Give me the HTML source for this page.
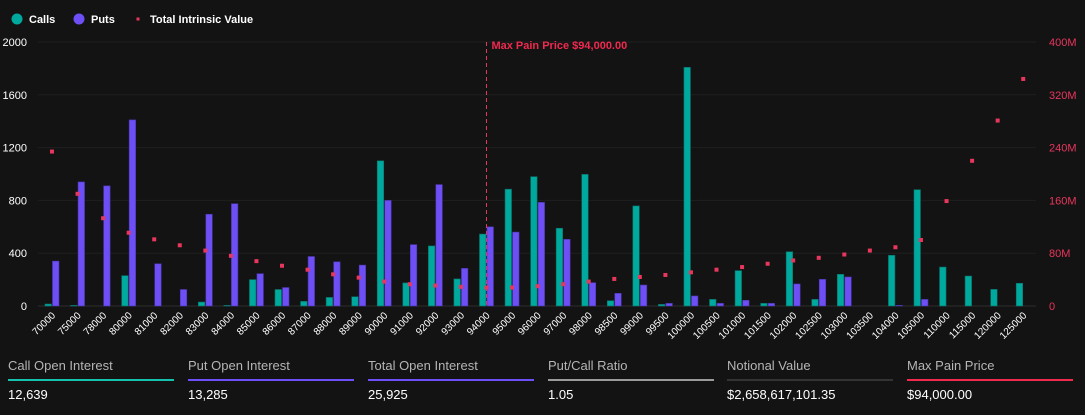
<!DOCTYPE html>
<html><head><meta charset="utf-8"><style>
body{margin:0;background:#131313;width:1085px;height:415px;overflow:hidden;font-family:"Liberation Sans",sans-serif;}
.stat{position:absolute;top:358px;width:166px;}
.stat .l{color:#b5b5b5;font-size:13px;height:20px;}
.stat .line{height:2px;margin-top:1px;}
.stat .v{color:#fff;font-size:13px;margin-top:6px;}
</style></head><body>
<svg id="chart" width="1085" height="350" style="position:absolute;left:0;top:0" font-family="Liberation Sans, sans-serif"></svg>
<div class="stat" style="left:8px"><div class="l">Call Open Interest</div><div class="line" style="background:#14c2ad"></div><div class="v">12,639</div></div>
<div class="stat" style="left:188px"><div class="l">Put Open Interest</div><div class="line" style="background:#6c4ff6"></div><div class="v">13,285</div></div>
<div class="stat" style="left:368px"><div class="l">Total Open Interest</div><div class="line" style="background:#6c4ff6"></div><div class="v">25,925</div></div>
<div class="stat" style="left:548px"><div class="l">Put/Call Ratio</div><div class="line" style="background:#9a9a9a"></div><div class="v">1.05</div></div>
<div class="stat" style="left:727px"><div class="l">Notional Value</div><div class="line" style="background:#333"></div><div class="v">$2,658,617,101.35</div></div>
<div class="stat" style="left:907px"><div class="l">Max Pain Price</div><div class="line" style="background:#f0294f"></div><div class="v">$94,000.00</div></div>
<script>
const categories=["70000","75000","78000","80000","81000","82000","83000","84000","85000","86000","87000","88000","89000","90000","91000","92000","93000","94000","95000","96000","97000","98000","98500","99000","99500","100000","100500","101000","101500","102000","102500","103000","103500","104000","105000","110000","115000","120000","125000"];
const calls=[15,5,0,230,0,0,30,5,200,125,35,65,70,1100,175,455,205,545,885,980,589,997,40,758,12,1808,50,268,20,411,50,240,0,384,881,295,227,126,172];
const puts=[340,940,910,1410,320,125,695,775,245,140,375,335,310,800,465,920,285,600,560,785,505,177,96,159,20,76,20,43,20,167,202,220,0,5,50,0,0,0,0];
const tiv=[234,170,133,111,101,92,84,76,68,61,55,48,43,37,33,31,29,28,28,30,33,37,41,44,47,51,55,59,64,69,73,78,84,89,100,159,220,281,344];
const leftTicks=[0,400,800,1200,1600,2000];
const rightTicks=["0","80M","160M","240M","320M","400M"];
const maxPain="94000";
const svg=document.getElementById('chart');const NS='http://www.w3.org/2000/svg';
function mk(t,a,txt){const e=document.createElementNS(NS,t);for(const k in a)e.setAttribute(k,a[k]);if(txt!==undefined)e.textContent=txt;svg.appendChild(e);return e;}
const x0=39.2,x1=1036,yTop=42,yBot=306;const bw=(x1-x0)/categories.length;
const xc=i=>x0+bw*(i+0.5);const yL=v=>yBot-(v/2000)*(yBot-yTop);const yR=v=>yBot-(v/400)*(yBot-yTop);
leftTicks.forEach((t,i)=>{const y=yL(t);
let g=mk('line',{x1:38,x2:1036,y1:y,y2:y,stroke:i?'#1f1f1f':'#2e2e2e','stroke-width':1});
let a=mk('text',{x:27,y:y+4,fill:'#fff','font-size':11,'text-anchor':'end'},t);
let b=mk('text',{x:1049,y:y+4,fill:'#e8365d','font-size':11},rightTicks[i]);});
categories.forEach((c,i)=>{const cx=xc(i);
let r=mk('rect',{x:cx-7,y:yL(calls[i]),width:6.5,height:yBot-yL(calls[i]),fill:'#00a99d',stroke:'#0b6f66','stroke-width':0.6});
let p=mk('rect',{x:cx+0.5,y:yL(puts[i]),width:6.5,height:yBot-yL(puts[i]),fill:'#6d4ff5',stroke:'#4a35a8','stroke-width':0.6});
let s=mk('rect',{x:cx-2,y:yR(tiv[i])-2,width:4,height:4,fill:'#e8365d'});
let t=mk('text',{x:cx+4,y:yBot+10,fill:'#fff','font-size':10,'text-anchor':'end',transform:`rotate(-45 ${cx+4} ${yBot+10})`},c);});
const mi=categories.indexOf(maxPain);const mx=xc(mi);
let ml=mk('line',{x1:mx,x2:mx,y1:yTop,y2:yBot,stroke:'#e8365d','stroke-width':1,'stroke-dasharray':'4,3'});
let mt=mk('text',{x:mx+5,y:49,fill:'#f0294f','font-size':11,'font-weight':'bold'},'Max Pain Price $94,000.00');
// legend
let c1=mk('circle',{cx:17,cy:19,r:5.5,fill:'#00a99d'});
let l1=mk('text',{x:29,y:23,fill:'#fff','font-size':11,'font-weight':'bold'},'Calls');
let c2=mk('circle',{cx:79,cy:19,r:5.5,fill:'#6d4ff5'});
let l2=mk('text',{x:91,y:23,fill:'#fff','font-size':11,'font-weight':'bold'},'Puts');
let c3=mk('rect',{x:136.5,y:17.5,width:3,height:3,fill:'#e8365d'});
let l3=mk('text',{x:150,y:23,fill:'#fff','font-size':11,'font-weight':'bold'},'Total Intrinsic Value');
</script>
</body></html>
